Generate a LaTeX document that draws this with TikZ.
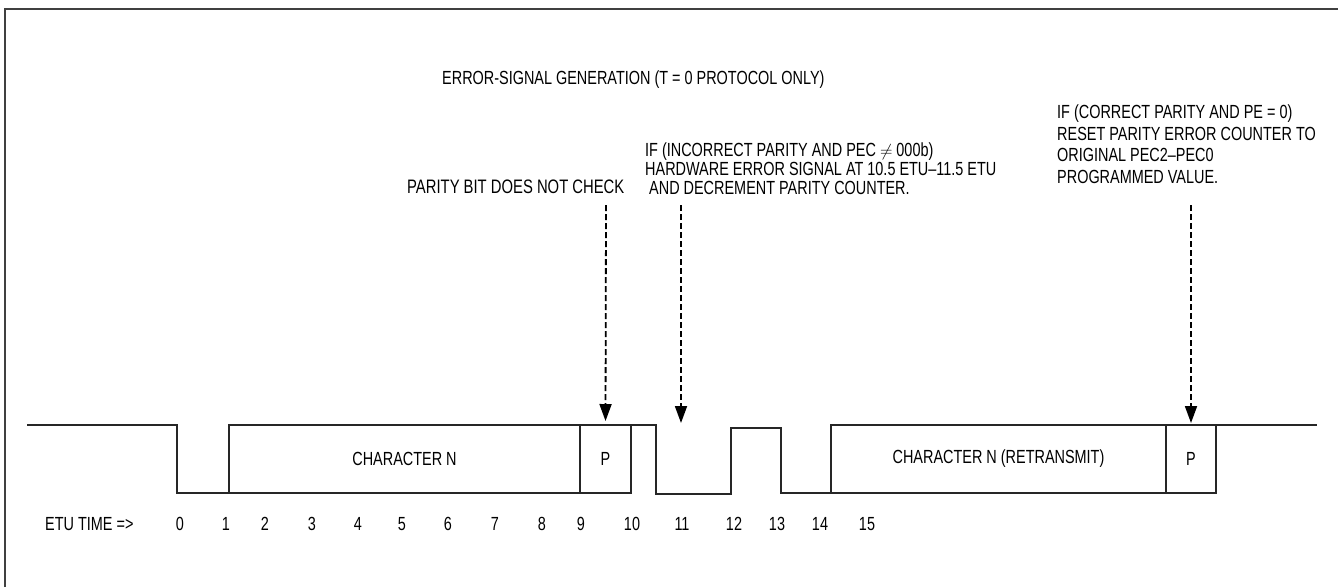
\documentclass[tikz,border=0pt]{standalone}
\usepackage{fontspec}
\setmainfont{Liberation Sans}[FakeStretch=0.76]
\usepackage{tikz}
\usetikzlibrary{arrows.meta, positioning}

\begin{document}
\begin{tikzpicture}[
    x=1pt, y=-1pt,
    % Estilos
    wave/.style={line width=1.5pt, color=black!85},
    cellbox/.style={
        draw=black!85, line width=1.5pt, inner sep=0pt, outer sep=0pt,
        minimum height=68pt, font=\fontsize{19}{21}\selectfont
    },
    note/.style={inner sep=0pt, align=left, font=\fontsize{19}{21.7}\selectfont},
    tick/.style={inner sep=0pt, anchor=base, font=\fontsize{19}{21}\selectfont},
    sigarrow/.style={
        -{Triangle[length=17pt, width=12pt]}, line width=1.8pt,
        dash pattern=on 6pt off 3pt, color=black
    }
]
    \useasboundingbox (0,0) rectangle (1338,587);

    % Marco (solo arriba e izquierda)
    \draw[line width=2.5pt, color=black!75] (5,587) -- (5,9) -- (1338,9);

    % 1. Celdas de los caracteres
    \node[cellbox, minimum width=351pt, anchor=north west] (charN) at (229,425) {CHARACTER N};
    \node[cellbox, minimum width=51pt, right=0pt of charN] (parN) {P};
    \node[cellbox, minimum width=335pt, anchor=north west] (charR) at (831,425) {CHARACTER N (RETRANSMIT)};
    \node[cellbox, minimum width=50pt, right=0pt of charR] (parR) {P};

    % 2. Forma de onda
    \coordinate (idle) at (27,425);
    \coordinate (stop) at (1317,425);
    \draw[wave] (idle) -- (177,425) -- (177,493) -- (charN.south west);
    \draw[wave] (parN.north east) -- (656,425) -- (656,494) -- (731,494)
        -- (731,428) -- (781,428) -- (781,493) -- (charR.south west);
    \draw[wave] (parR.north east) -- (stop);

    % 3. Escala ETU
    \node[tick, anchor=base west] (etu) at (45,530) {ETU TIME =>};
    \foreach \t/\x in {0/180, 1/226, 2/265, 3/312, 4/358, 5/402, 6/448, 7/495,
                       8/542, 9/581, 10/632, 11/682, 12/734, 13/777, 14/820, 15/867}
        \node[tick] (t\t) at (\x,530) {\t};

    % 4. Textos
    \node[note, anchor=base west] (title) at (442,84) {ERROR-SIGNAL GENERATION (T = 0 PROTOCOL ONLY)};
    \node[note, anchor=base west, font=\fontsize{19.5}{21}\selectfont] (nocheck) at (407,193) {PARITY BIT DOES NOT CHECK};
    \node[note, anchor=south west, font=\fontsize{19}{19}\selectfont] (errgen) at (645,195)
        {IF (INCORRECT PARITY AND PEC $\neq$ 000b)\\
         HARDWARE ERROR SIGNAL AT 10.5 ETU--11.5 ETU\\
         \hspace*{4pt}AND DECREMENT PARITY COUNTER.};
    \node[note, anchor=south west] (reset) at (1057,184)
        {IF (CORRECT PARITY AND PE = 0)\\
         RESET PARITY ERROR COUNTER TO\\
         ORIGINAL PEC2--PEC0\\
         PROGRAMMED VALUE.};

    % 5. Flechas
    \coordinate (srcA) at (606,205);
    \coordinate (srcB) at (681,205);
    \coordinate (tipB) at (681,423);
    \coordinate (srcC) at (1191,205);
    \draw[sigarrow, shorten >=4pt] (srcA) -- (parN.north);
    \draw[sigarrow] (srcB) -- (tipB);
    \draw[sigarrow, shorten >=2pt] (srcC) -- (parR.north);

\end{tikzpicture}
\end{document}
